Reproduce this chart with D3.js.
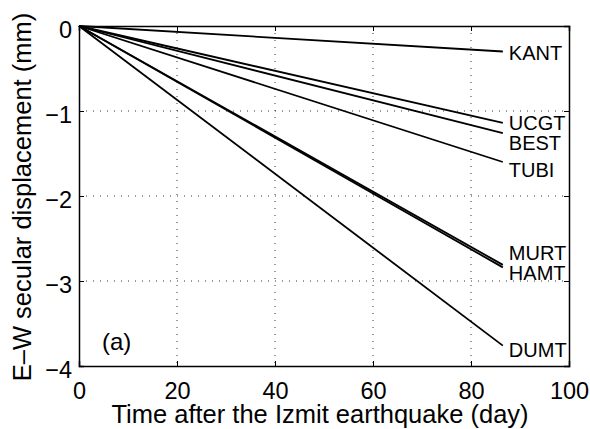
<!DOCTYPE html>
<html>
<head>
<meta charset="utf-8">
<script src="https://cdn.jsdelivr.net/npm/d3@7"></script>
<style>
  body { margin: 0; background: #fff; }
  text { font-family: "Liberation Sans", Arial, Helvetica, sans-serif; fill: #000; }
</style>
</head>
<body>
<div id="chart"></div>
<script>
// data
var stations = ["KANT", "UCGT", "BEST", "TUBI", "MURT", "HAMT", "DUMT"];
var days = [0, 86.5];
var endValues = [-0.30, -1.14, -1.26, -1.60, -2.81, -2.84, -3.76];
var xTicks = [0, 20, 40, 60, 80, 100];
var yTicks = [0, -1, -2, -3, -4];

// label nudges (px) so stacked names don't collide
var labelShift = [1.5, 0, 9.5, 7.5, -12.5, 5, 4.5];

var margin = {top: 26, right: 21, bottom: 63, left: 79};
var width = 590 - margin.left - margin.right;
var height = 429 - margin.top - margin.bottom;

var svg = d3.select('#chart')
  .append('svg')
    .attr('width', 590)
    .attr('height', 429)
  .append('g')
    .attr('transform', 'translate(' + margin.left + ',' + margin.top + ')');

var x = d3.scaleLinear().domain([0, 100]).range([0, width]);
var y = d3.scaleLinear().domain([-4, 0]).range([height, 0]);

// dotted grid
svg.selectAll('.xgrid')
  .data(xTicks.slice(1, -1))
  .enter().append('line')
    .attr('x1', function(d) { return x(d); })
    .attr('x2', function(d) { return x(d); })
    .attr('y1', 0).attr('y2', height)
    .attr('stroke', '#000').attr('stroke-width', 0.8)
    .attr('stroke-dasharray', '1,6');
svg.selectAll('.ygrid')
  .data(yTicks.slice(1, -1))
  .enter().append('line')
    .attr('y1', function(d) { return y(d); })
    .attr('y2', function(d) { return y(d); })
    .attr('x1', 0).attr('x2', width)
    .attr('stroke', '#000').attr('stroke-width', 0.8)
    .attr('stroke-dasharray', '1,6');

// axes (ticks inside, like matlab)
var fmt = d3.format('d');
var xb = svg.append('g')
  .attr('transform', 'translate(0,' + height + ')')
  .call(d3.axisBottom(x).tickValues(xTicks).tickSize(-5).tickPadding(16).tickFormat(fmt));
var xt = svg.append('g')
  .call(d3.axisTop(x).tickValues(xTicks).tickSize(-5).tickFormat(''));
var yl = svg.append('g')
  .call(d3.axisLeft(y).tickValues(yTicks).tickSize(-5).tickPadding(7).tickFormat(fmt));
var yr = svg.append('g')
  .attr('transform', 'translate(' + width + ',0)')
  .call(d3.axisRight(y).tickValues(yTicks).tickSize(-5).tickFormat(''));

[xb, xt, yl, yr].forEach(function(g) {
  g.select('.domain').attr('stroke', '#000').attr('stroke-width', 1.5);
  g.selectAll('.tick line').attr('stroke', '#000').attr('stroke-width', 1);
  g.selectAll('.tick text').style('font-size', '23.5px').style('font-family', '"Liberation Sans", Arial, sans-serif').attr('fill', '#000');
});
yl.selectAll('.tick text').attr('dy', '0.48em');

// station lines
var line = d3.line()
  .x(function(d) { return x(d[0]); })
  .y(function(d) { return y(d[1]); });

svg.selectAll('.station')
  .data(endValues)
  .enter().append('path')
    .attr('d', function(v) { return line([[days[0], 0], [days[1], v]]); })
    .attr('fill', 'none')
    .attr('stroke', '#000')
    .attr('stroke-width', 1.8);

svg.selectAll('.lbl')
  .data(stations)
  .enter().append('text')
    .attr('x', x(days[1]) + 6)
    .attr('y', function(d, i) { return y(endValues[i]) + labelShift[i]; })
    .attr('dy', '0.36em')
    .style('font-size', '20px')
    .text(function(d) { return d; });

svg.append('text')
  .attr('x', 23).attr('y', 324)
  .style('font-size', '24px')
  .text('(a)');

// axis titles
svg.append('text')
  .attr('transform', 'translate(' + (320 - margin.left) + ',' + (423 - margin.top) + ')')
  .style('text-anchor', 'middle')
  .style('font-size', '25.5px')
  .text('Time after the Izmit earthquake (day)');

svg.append('text')
  .attr('transform', 'translate(' + (31 - margin.left) + ',' + (197 - margin.top) + ')rotate(-90)')
  .style('text-anchor', 'middle')
  .style('font-size', '25.5px')
  .text('E\u2013W secular displacement (mm)');
</script>
</body>
</html>
